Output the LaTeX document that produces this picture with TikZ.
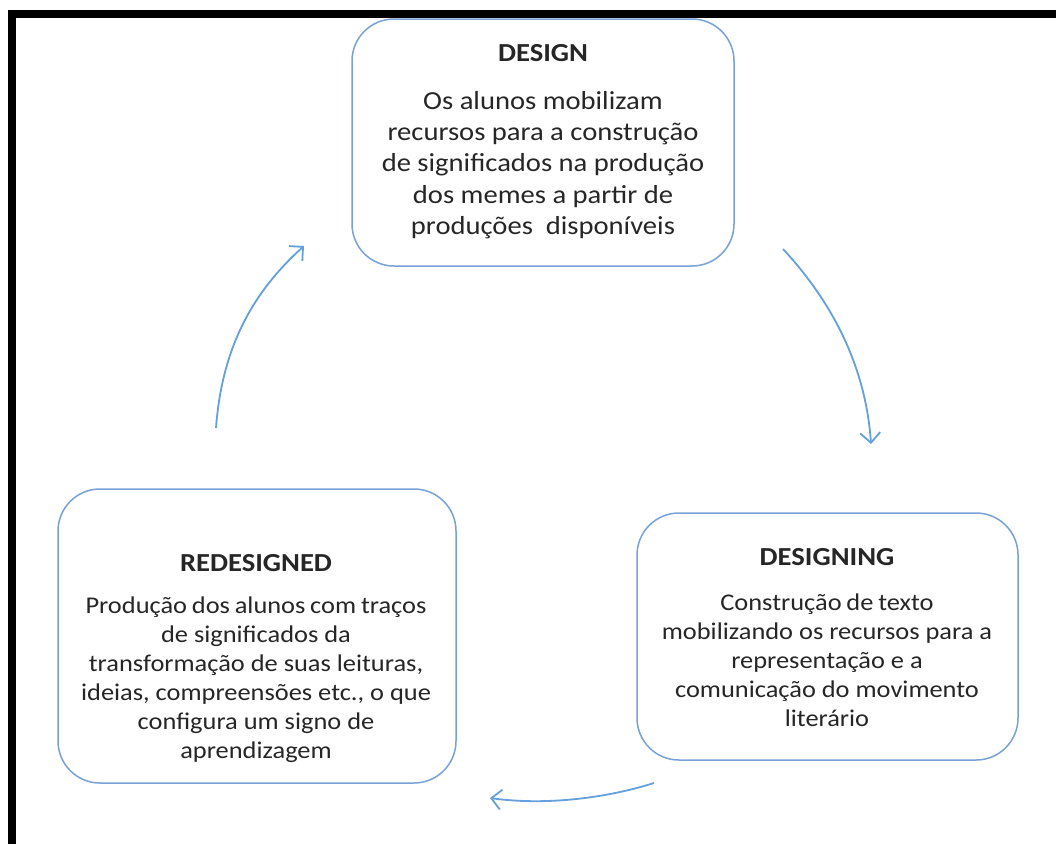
\documentclass[tikz,border=0pt]{standalone}
\usepackage{fontspec}
\setmainfont{Carlito}[FakeStretch=1.1]
\usetikzlibrary{arrows.meta}
\definecolor{boxblue}{RGB}{120,162,215}
\definecolor{arrowblue}{RGB}{100,160,220}
\definecolor{txt}{RGB}{38,38,38}
\newcommand\tightsp{\spaceskip=0.2em plus 0.05em minus 0.02em\relax}
\tikzset{
  box/.style={draw=boxblue, line width=1.5pt, rounded corners=42pt, fill=white, inner sep=0pt},
  ttl/.style={font=\bfseries\fontsize{26}{32}\selectfont, text=txt, inner sep=0pt},
  body/.style={font=\fontsize{26}{31.3}\selectfont, text=txt, align=center, inner sep=0pt},
  bodysm/.style={font=\fontsize{24}{29}\selectfont, text=txt, align=center, inner sep=0pt},
  flow/.style={draw=arrowblue, line width=1.8pt, -{Straight Barb[length=10pt,width=20pt,line width=1.8pt]}}
}
\begin{document}
\begin{tikzpicture}[x=1pt,y=-1pt]
\useasboundingbox (0,0) rectangle (1056,844);
\fill[white] (0,0) rectangle (1056,844);
% frame (top and left)
\fill[black] (8,10) rectangle (1056,18);
\fill[black] (8,10) rectangle (16,844);
% boxes
\node[box, minimum width=382pt, minimum height=247pt] (design) at (543,142.5) {};
\node[box, minimum width=398pt, minimum height=294pt] (redesigned) at (257,636) {};
\node[box, minimum width=381pt, minimum height=247pt] (designing) at (827.5,636.5) {};
% texts
\node[ttl] (t1) at (543,53) {DESIGN};
\node[body] (b1) at (543,165) {Os alunos mobilizam\\recursos para a construção\\de significados na produção\\dos memes a partir de\\produções\ \ disponíveis};
\node[ttl] (t2) at (256,563) {REDESIGNED};
\node[bodysm] (b2) at (256,680) {\tightsp Produção dos alunos com traços\\de significados da\\transformação de suas leituras,\\ideias, compreensões etc., o que\\configura um signo de\\aprendizagem};
\node[ttl] (t3) at (827,557) {DESIGNING};
\node[bodysm] (b3) at (827,660) {\tightsp Construção de texto\\mobilizando os recursos para a\\representação e a\\comunicação do movimento\\literário};
% connector end points
\coordinate (a1s) at (216,428);
\coordinate (a1e) at (304,246);
\coordinate (a2s) at (783,249);
\coordinate (a2e) at (871,444);
\coordinate (a3s) at (654,783);
\coordinate (a3e) at (490,798);
\draw[flow] (a1s) .. controls (222,345) and (255,290) .. (a1e);
\draw[flow] (a2s) .. controls (835,305) and (866,370) .. (a2e);
\draw[flow] (a3s) .. controls (600,800) and (540,805) .. (a3e);
\end{tikzpicture}
\end{document}
